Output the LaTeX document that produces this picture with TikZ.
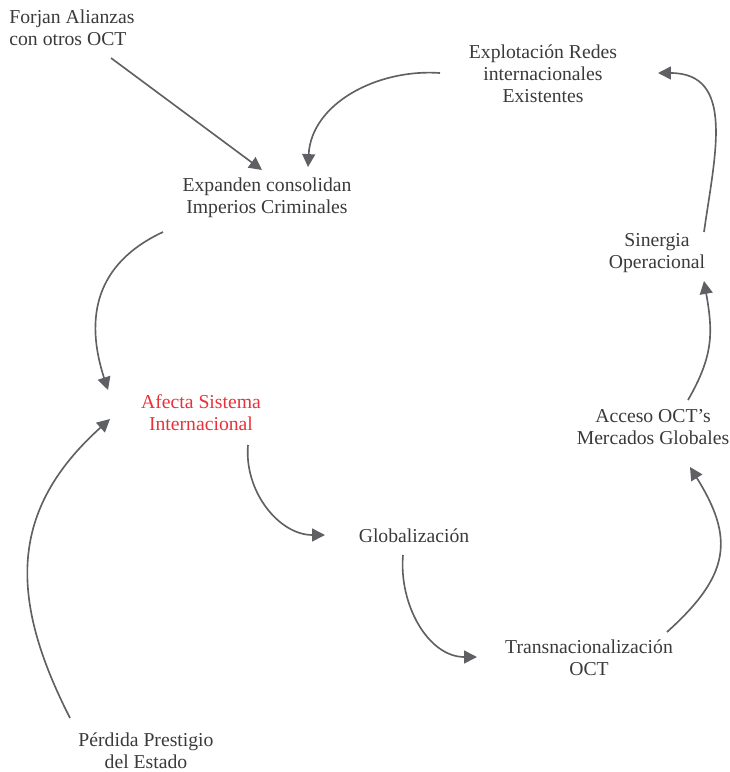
\documentclass[tikz,border=0pt]{standalone}
\usepackage{fontspec}
\setmainfont{Liberation Serif}
\usepackage{tikz}
\usetikzlibrary{arrows.meta}

\definecolor{flecha}{HTML}{5F6064}
\definecolor{texto}{HTML}{3A3A3A}
\definecolor{rojo}{HTML}{E8313A}

\begin{document}
\begin{tikzpicture}[x=0.03cm, y=0.03cm,
    caja/.style={align=center, inner sep=0pt, text=texto, font=\fontsize{16.8}{18.7}\selectfont},
    liga/.style={draw=flecha, line width=1.4pt, -{Triangle[width=11pt,length=11pt]}}]

\useasboundingbox (0,0) rectangle (730,-772);

\node [caja, align=left] (forjan)   at (72,-28)   {Forjan Alianzas\\con otros OCT};
\node [caja] (expanden) at (267,-198)  {Expanden consolidan\\Imperios Criminales};
\node [caja] (explot)   at (543,-74)   {Explotación Redes\\internacionales\\Existentes};
\node [caja] (sinergia) at (657,-253)  {Sinergia\\Operacional};
\node [caja] (acceso)   at (653,-427)  {Acceso OCT’s\\Mercados Globales};
\node [caja] (glob)     at (414,-536)  {Globalización};
\node [caja] (trans)    at (589,-658)  {Transnacionalización\\OCT};
\node [caja] (perdida)  at (146,-751)  {Pérdida Prestigio\\del Estado};
\node [caja, text=rojo] (afecta) at (201,-413) {Afecta Sistema\\Internacional};

\draw [liga] ([shift={(39,-30)}]forjan.center) -- ([shift={(-5,28)}]expanden.center);
\draw [liga] ([shift={(-103,1)}]explot.center) to[out=176,in=87] ([shift={(41,31)}]expanden.center);
\draw [liga] ([shift={(-104,-34)}]expanden.center) to[out=205,in=108,looseness=1.15] ([shift={(-93,23)}]afecta.center);
\draw [liga] ([shift={(-76,33)}]perdida.center) to[out=117,in=222,looseness=1.15] ([shift={(-91,-6)}]afecta.center);
\draw [liga] ([shift={(47,-32)}]afecta.center) to[out=265,in=180] ([shift={(-89,1)}]glob.center);
\draw [liga] ([shift={(-11,-19)}]glob.center) to[out=265,in=180] ([shift={(-112,1)}]trans.center);
\draw [liga] ([shift={(78,26)}]trans.center) to[out=42,in=302,looseness=1.3] ([shift={(37,-40)}]acceso.center);
\draw [liga] ([shift={(35,27)}]acceso.center) to[out=60,in=280,looseness=1.1] ([shift={(47,-28)}]sinergia.center);
\draw [liga] ([shift={(47,21)}]sinergia.center) to[out=82,in=0,looseness=1.2] ([shift={(115,1)}]explot.center);

\end{tikzpicture}
\end{document}
